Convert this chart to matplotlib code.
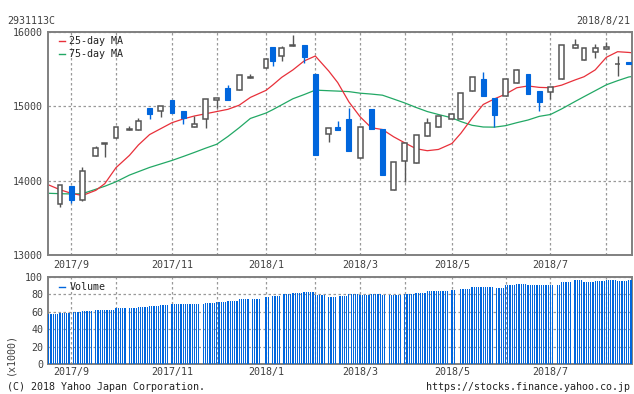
import numpy as np
import matplotlib
matplotlib.use('Agg')
import matplotlib.pyplot as plt
from matplotlib.transforms import ScaledTranslation

# ---------------- data ----------------
axis_start = '2017-08-21'
axis_holidays = ['2018-01-01']

candle_dates = ['2017-08-28', '2017-09-04', '2017-09-11', '2017-09-19', '2017-09-25',
                '2017-10-02', '2017-10-10', '2017-10-16', '2017-10-23', '2017-10-30',
                '2017-11-06', '2017-11-13', '2017-11-20', '2017-11-27', '2017-12-04',
                '2017-12-11', '2017-12-18', '2017-12-25', '2018-01-04', '2018-01-09',
                '2018-01-15', '2018-01-22', '2018-01-29', '2018-02-05', '2018-02-13',
                '2018-02-19', '2018-02-26', '2018-03-05', '2018-03-12', '2018-03-19',
                '2018-03-26', '2018-04-02', '2018-04-09', '2018-04-16', '2018-04-23',
                '2018-05-01', '2018-05-07', '2018-05-14', '2018-05-21', '2018-05-28',
                '2018-06-04', '2018-06-11', '2018-06-18', '2018-06-25', '2018-07-02',
                '2018-07-09', '2018-07-17', '2018-07-23', '2018-07-30', '2018-08-06',
                '2018-08-13', '2018-08-20']
opens = [13682, 13928, 13736, 14336, 14489, 14570, 14688, 14677, 14977, 14941,
         15081, 14937, 14718, 14826, 15081, 15243, 15216, 15377, 15512, 15798,
         15681, 15810, 15825, 15435, 14624, 14718, 14830, 14301, 14964, 14691,
         13870, 14260, 14233, 14597, 14718, 14826, 14826, 15202, 15363, 15108,
         15134, 15314, 15435, 15206, 15189, 15363, 15780, 15619, 15727, 15767,
         15574, 15592]
highs = [13940, 13930, 14188, 14470, 14511, 14720, 14735, 14839, 14980, 15010,
         15083, 14939, 14870, 15100, 15110, 15287, 15417, 15435, 15633, 15798,
         15816, 15960, 15825, 15435, 14704, 14803, 14974, 14726, 14964, 14691,
         14247, 14502, 14610, 14839, 14874, 14892, 15175, 15390, 15462, 15108,
         15363, 15502, 15435, 15206, 15256, 15825, 15906, 15780, 15839, 15865,
         15677, 15592]
lows = [13650, 13695, 13730, 14336, 14314, 14568, 14683, 14677, 14826, 14852,
        14915, 14758, 14716, 14713, 14974, 15090, 15216, 15377, 15512, 15547,
        15614, 15810, 15579, 14350, 14525, 14677, 14403, 14301, 14695, 14080,
        13870, 13986, 14233, 14597, 14718, 14826, 14826, 15202, 15143, 14722,
        15134, 15314, 15170, 14941, 15095, 15363, 15780, 15619, 15654, 15767,
        15412, 15574]
closes = [13938, 13740, 14126, 14435, 14511, 14718, 14695, 14799, 14901, 15009,
          14915, 14847, 14758, 15095, 15108, 15090, 15417, 15399, 15633, 15614,
          15780, 15820, 15664, 14350, 14704, 14677, 14403, 14726, 14695, 14080,
          14247, 14502, 14610, 14772, 14874, 14892, 15175, 15390, 15143, 14888,
          15363, 15484, 15170, 15063, 15256, 15825, 15821, 15780, 15780, 15798,
          15574, 15574]

ma_dates = ['2017-08-21'] + candle_dates + ['2018-08-21']
ma25 = [13942, 13878, 13830, 13800, 13870, 13960, 14175, 14340, 14480, 14620, 14700,
        14780, 14830, 14870, 14900, 14930, 14960, 15015, 15120, 15215, 15287,
        15390, 15490, 15610, 15677, 15475, 15320, 15060, 14860, 14712, 14688,
        14590, 14508, 14430, 14403, 14420, 14500, 14637, 14840, 15025, 15100,
        15165, 15250, 15274, 15255, 15250, 15285, 15355, 15398, 15490, 15660,
        15735, 15725, 15722]
ma75 = [13830, 13825, 13821, 13825, 13885, 13925, 13985, 14075, 14121, 14178, 14225,
        14272, 14325, 14380, 14437, 14490, 14595, 14712, 14837, 14910, 14955,
        15020, 15102, 15158, 15218, 15210, 15205, 15198, 15177, 15165, 15150,
        15098, 15045, 14985, 14930, 14890, 14845, 14795, 14745, 14722, 14720,
        14740, 14780, 14816, 14865, 14890, 14965, 15065, 15130, 15210, 15290,
        15345, 15395, 15399]

# daily volume (x1000) per week, Mon..Fri; None = no data
N = None
vol_weeks = [
    [57.5, 57.5, 57.5, 57.5, 57.5], [58.3, 58.3, 58.3, 58.3, 58.3],
    [N, 59.5, 59.5, 59.5, 59.5], [60.5, 60.5, 60.5, 60.5, 60.5],
    [N, 62, 62, 62, 62], [62.5, 62.5, 62.5, 62.5, 62.5],
    [63.8, 63.8, 63.8, 63.8, 63.8], [N, 64.5, 64.5, 64.5, 64.5],
    [65.5, 65.5, 65.5, 65.5, 65.5], [66.8, 66.8, 66.8, 66.8, 66.8],
    [68, 68, 68, 68, N], [69, 69, 69, 69, 69],
    [69, 69, 69, 69, 69], [69, 69, 69, N, 69],
    [70, 70, 70, 70, 70], [71.5, 71.5, 71.5, 71.5, 71.5],
    [72.5, 72.5, 72.5, 72.5, 72.5], [74, 74, 74, 74, 74],
    [N, 75, 75, 75, 75], [N, N, N, 76.5, 76.5],
    [N, 78, 78, 78, 78], [N, 80, 80, 80, 80],
    [81, 81, 81, 81, 81], [82, 82, 82, 82, 82],
    [79, 79, 79, 79, 79], [N, 77, 77, 77, 77],
    [N, 78, 78, 78, 78], [80, 80, 80, 80, 80],
    [79.5, 79.5, 79.5, 79.5, 79.5], [80, 80, 80, 80, 80],
    [79.5, 79.5, N, 79.5, 79.5], [79, 79, 79, 79, N],
    [80, 80, 80, 80, 80], [81, 81, 81, 81, 81],
    [83.5, 83.5, 83.5, 83.5, 83.5], [84, 84, 84, 84, 84],
    [N, 85, 85, N, N], [86, 86, 86, 86, 86],
    [88, 88, 88, 88, 88], [88.8, 88.8, 88.8, 88.8, 88.8],
    [N, 87.5, 87.5, 87.5, 87.5], [90, 90, 90, 90, 90],
    [91.5, 91.5, 91.5, 91.5, 91.5], [91, 91, 91, 91, 91],
    [90, 90, 90, 90, 90], [91, 91, N, 91, 91],
    [94, 94, 94, 94, 94], [N, 95.8, 95.8, 95.8, 95.8],
    [94, 94, 94, 94, 94], [95.5, 95.5, 95.5, 95.5, 95.5],
    [96.5, 96.5, 96.5, 96.5, 96.5], [95.5, 95.5, 95.5, 95.5, 95.5],
    [96.5, 96.5, N, N, N],
]

price_ticks = [13000, 14000, 15000, 16000]
vol_ticks = [0, 20, 40, 60, 80, 100]

# ---------------- helpers ----------------
def xidx(dates):
    d = np.array(dates, dtype='datetime64[D]')
    return np.busday_count(np.datetime64(axis_start), d, holidays=axis_holidays)

BLUE = '#0066dd'
EDGE = '#555555'
GRID = '#999999'
FRAME = '#808080'
TXT = '#404040'
RED = '#e8303a'
GREEN = '#22a865'
FONT = 'DejaVu Sans Mono'
FS = 7.2

plt.rcParams['font.family'] = FONT
plt.rcParams['font.size'] = FS

fig = plt.figure(figsize=(6.34, 3.94), dpi=100)
W, H = 634, 394

def axes_px(x0, y0, x1, y1):
    return fig.add_axes([x0 / W, 1 - y1 / H, (x1 - x0) / W, (y1 - y0) / H])

ax = axes_px(47.7, 32, 631.7, 255)
axv = axes_px(47.7, 276.7, 631.7, 364.3)

cx = xidx(candle_dates)
o = np.array(opens); h = np.array(highs); l = np.array(lows); c = np.array(closes)
XL = (-0.5, 260.3)

# month grid: first candle of each new month
months = [d[:7] for d in candle_dates]
grid_x, grid_lbl = [], []
for i in range(1, len(candle_dates)):
    if months[i] != months[i - 1]:
        grid_x.append(cx[i])
        y, m = candle_dates[i][:4], int(candle_dates[i][5:7])
        grid_lbl.append(f'{y}/{m}' if m % 2 == 1 else '')

for a in (ax, axv):
    a.set_xlim(*XL)
    for s in a.spines.values():
        s.set_color(FRAME)
        s.set_linewidth(1.4)
    a.set_xticks(grid_x)
    a.set_xticklabels(grid_lbl)
    a.tick_params(length=0, colors=TXT, labelsize=FS)
    a.grid(True, color=GRID, linestyle=(0, (2, 2)), linewidth=0.9)
    a.set_axisbelow(True)
    for lab in a.get_xticklabels():
        lab.set_transform(lab.get_transform() + ScaledTranslation(-5 / 100, 0, fig.dpi_scale_trans))

ax.tick_params(axis='x', pad=3.5)
axv.tick_params(axis='x', pad=2.0)
ax.tick_params(axis='y', pad=3.2)
axv.tick_params(axis='y', pad=3.2)

# --- price panel ---
ax.set_ylim(13000, 16000)
ax.set_yticks(price_ticks)
ax.set_yticklabels([str(t) for t in price_ticks])

mx = xidx(ma_dates)
ax.plot(mx, ma75, color=GREEN, lw=0.9, zorder=2)
ax.plot(mx, ma25, color=RED, lw=0.9, zorder=2)

up = c >= o
for i in range(len(cx)):
    col = EDGE if up[i] else BLUE
    ax.vlines(cx[i], l[i], h[i], color=col, lw=1.0, zorder=3)
bot = np.minimum(o, c)
hgt = np.abs(c - o)
ax.bar(cx[up], hgt[up], bottom=bot[up], width=2.2, facecolor='white',
       edgecolor=EDGE, linewidth=1.1, zorder=4)
ax.bar(cx[~up], hgt[~up], bottom=bot[~up], width=2.2, facecolor=BLUE,
       edgecolor=BLUE, linewidth=0.8, zorder=4)

# legend (price)
for yy, lab, col in ((0.958, '25-day MA', RED), (0.901, '75-day MA', GREEN)):
    ax.plot([0.0199, 0.0296], [yy, yy], transform=ax.transAxes, color=col, lw=1.0)
    ax.text(0.037, yy, lab, transform=ax.transAxes, va='center', ha='left',
            color='#222222', fontsize=FS)

# --- volume panel ---
vx, vv = [], []
wk0 = np.datetime64(axis_start)
for k, wk in enumerate(vol_weeks):
    for d, val in enumerate(wk):
        if val is None:
            continue
        day = wk0 + np.timedelta64(7 * k + d, 'D')
        vx.append(np.busday_count(wk0, day, holidays=axis_holidays))
        vv.append(val)
axv.bar(vx, vv, width=0.55, color=BLUE, linewidth=0, zorder=3, antialiased=False)
axv.set_ylim(0, 100)
axv.set_yticks(vol_ticks)
axv.set_yticklabels([str(t) for t in vol_ticks])
axv.plot([0.0199, 0.0296], [0.886, 0.886], transform=axv.transAxes, color=BLUE, lw=1.0)
axv.text(0.037, 0.886, 'Volume', transform=axv.transAxes, va='center', ha='left',
         color='#222222', fontsize=FS)

# --- texts ---
fig.text(7.3 / W, 1 - 21 / H, '2931113C', ha='left', va='center', color=TXT, fontsize=FS)
fig.text(630 / W, 1 - 21 / H, '2018/8/21', ha='right', va='center', color=TXT, fontsize=FS)
fig.text(10.5 / W, 1 - 354 / H, '(x1000)', ha='center', va='center', rotation=90, color=TXT, fontsize=FS)
fig.text(7.3 / W, 1 - 386.5 / H, '(C) 2018 Yahoo Japan Corporation.', ha='left', va='center',
         color='#222222', fontsize=FS)
fig.text(630 / W, 1 - 386.5 / H, 'https://stocks.finance.yahoo.co.jp', ha='right', va='center',
         color='#222222', fontsize=FS)

fig.savefig('out.png', dpi=100)
